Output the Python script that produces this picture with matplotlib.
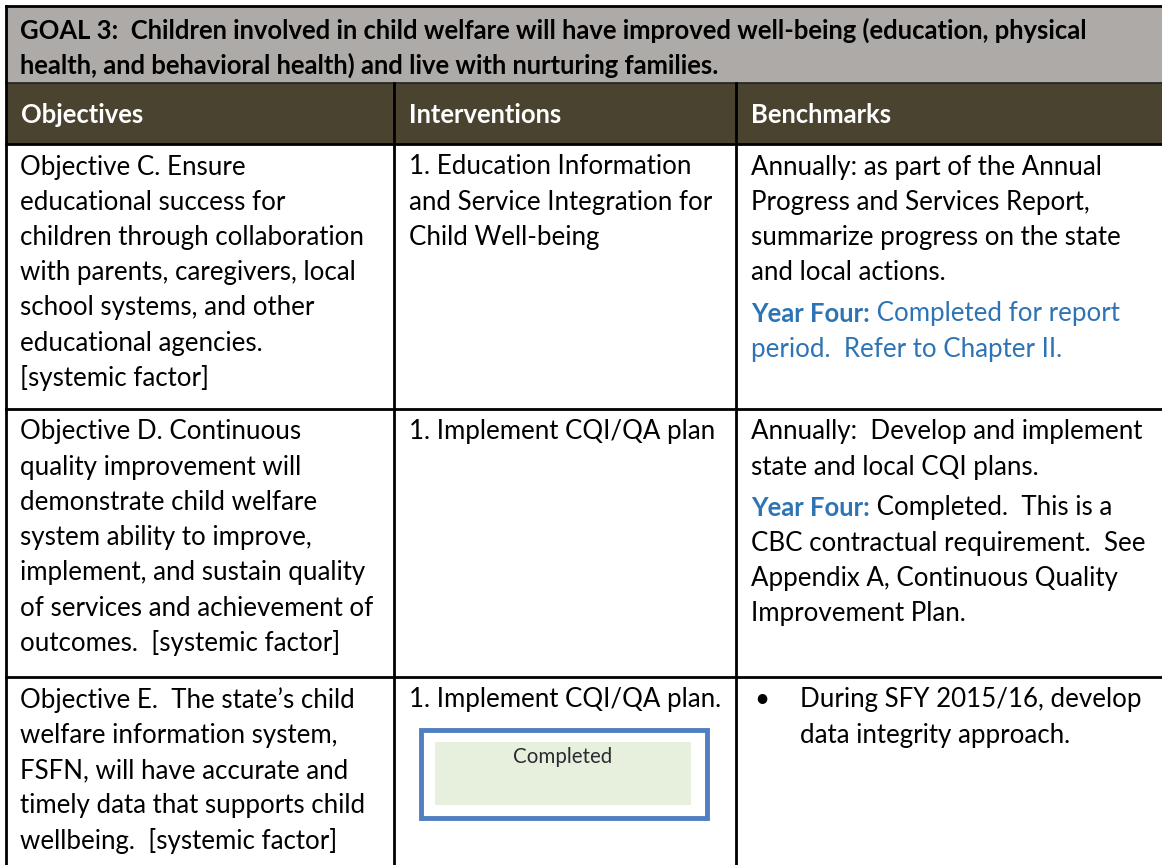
import matplotlib.pyplot as plt
from matplotlib.patches import Rectangle

plt.rcParams["font.family"] = ["Lato", "DejaVu Sans"]

# ---- table content -------------------------------------------------------
goal_lines = [
    "GOAL 3:  Children involved in child welfare will have improved well-being (education, physical",
    "health, and behavioral health) and live with nurturing families.",
]
headers = ["Objectives", "Interventions", "Benchmarks"]

objectives = [
    ["Objective C. Ensure", "educational success for", "children through collaboration",
     "with parents, caregivers, local", "school systems, and other",
     "educational agencies.", "[systemic factor]"],
    ["Objective D. Continuous", "quality improvement will", "demonstrate child welfare",
     "system ability to improve,", "implement, and sustain quality",
     "of services and achievement of", "outcomes.  [systemic factor]"],
    ["Objective E.  The state\u2019s child", "welfare information system,",
     "FSFN, will have accurate and", "timely data that supports child",
     "wellbeing.  [systemic factor]"],
]
interventions = [
    ["1. Education Information", "and Service Integration for", "Child Well-being"],
    ["1. Implement CQI/QA plan"],
    ["1. Implement CQI/QA plan."],
]
benchmarks = [
    ["Annually: as part of the Annual", "Progress and Services Report,",
     "summarize progress on the state", "and local actions."],
    ["Annually:  Develop and implement", "state and local CQI plans."],
    ["During SFY 2015/16, develop", "data integrity approach."],
]
bullet_rows = [False, False, True]
year_four_label = "Year Four:"
year_four_text = [
    [" Completed for report", "period.  Refer to Chapter II."],
    [" Completed.  This is a", "CBC contractual requirement.  See",
     "Appendix A, Continuous Quality", "Improvement Plan."],
    [],
]
year_four_color = ["#2E74B5", "black", None]
status_row = 2
status_text = "Completed"

# ---- layout (pixels) -----------------------------------------------------
W, H = 1162, 865
col_x = [6, 394, 736, W]
row_y = [144, 409, 677, H]
goal_top, head_top = 6, 83
pad = 15
line_h = 35.2
fs = 18.6
fs_bold = 18.45
blue = "#2E74B5"

fig = plt.figure(figsize=(W / 100, H / 100), dpi=100)
ax = fig.add_axes([0, 0, 1, 1])
ax.set_xlim(0, W)
ax.set_ylim(H, 0)
ax.axis("off")

ax.add_patch(Rectangle((col_x[0], goal_top), W - col_x[0], head_top - goal_top,
                       facecolor="#ADAAA7", edgecolor="none"))
ax.add_patch(Rectangle((col_x[0], head_top), W - col_x[0], row_y[0] - head_top,
                       facecolor="#4A4330", edgecolor="none"))

for i, line in enumerate(goal_lines):
    ax.text(col_x[0] + 14, 30 + i * line_h, line, fontsize=fs_bold, fontweight="bold",
            va="center", ha="left", color="black")
for j, h in enumerate(headers):
    ax.text(col_x[j] + pad, 115, h, fontsize=fs_bold, fontweight="bold",
            va="center", ha="left", color="white")

# grid lines
lw = 2
ax.plot([col_x[0], W], [goal_top, goal_top], color="black", lw=lw)
ax.plot([col_x[0], W], [head_top, head_top], color="#222222", lw=1.2)
for y in row_y[:-1]:
    ax.plot([col_x[0], W], [y, y], color="black", lw=lw)
ax.plot([col_x[0], col_x[0]], [goal_top, H], color="black", lw=lw)
for x in col_x[1:3]:
    ax.plot([x, x], [head_top, H], color="black", lw=lw)

for r in range(3):
    y0 = row_y[r] + 23
    for k, line in enumerate(objectives[r]):
        ax.text(col_x[0] + 14, y0 + k * line_h, line, fontsize=fs, va="center")
    for k, line in enumerate(interventions[r]):
        ax.text(col_x[1] + pad, y0 + k * line_h, line, fontsize=fs, va="center")
    bx = col_x[2] + pad
    if bullet_rows[r]:
        ax.text(bx + 11, y0, "\u2022", fontsize=fs, va="center", ha="center")
        bx = col_x[2] + 64
    for k, line in enumerate(benchmarks[r]):
        ax.text(bx, y0 + k * line_h, line, fontsize=fs, va="center")
    if year_four_text[r]:
        yy = y0 + len(benchmarks[r]) * line_h + 6
        lab = ax.text(bx, yy, year_four_label, fontsize=fs_bold, fontweight="bold",
                      color=blue, va="center")
        ax.annotate(year_four_text[r][0], xy=(1, 0), xycoords=lab, va="bottom",
                    ha="left", fontsize=fs, color=year_four_color[r])
        for k, line in enumerate(year_four_text[r][1:], start=1):
            ax.text(bx, yy + k * line_h, line, fontsize=fs, va="center",
                    color=year_four_color[r])

# status box
sy = row_y[status_row]
ax.add_patch(Rectangle((421, sy + 53), 286, 88, facecolor="white",
                       edgecolor="#4F7FC0", lw=3.5))
ax.add_patch(Rectangle((435, sy + 65), 256, 63, facecolor="#E7EFDD",
                       edgecolor="none"))
ax.text(563, sy + 80, status_text, fontsize=14.8, ha="center", va="center",
        color="#2B2B33")

fig.savefig("out.png", dpi=100)
